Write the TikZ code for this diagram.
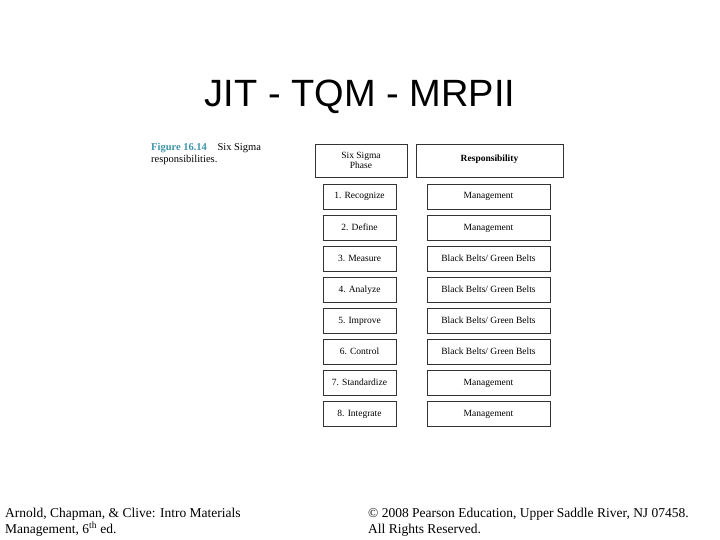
\documentclass[tikz,border=0pt]{standalone}
\usepackage{fontspec}
\setmainfont{Liberation Serif}
\newfontfamily\ttl{Liberation Sans}
\definecolor{teal1}{RGB}{60,150,170}
\begin{document}
\begin{tikzpicture}[x=1pt,y=-1pt,
  cell/.style={draw=black!80,line width=0.6pt,minimum height=25pt,inner sep=0pt,text height=7pt,text depth=2pt,font=\fontsize{9.5}{10}\selectfont},
  lcell/.style={cell,minimum width=73pt},
  rcell/.style={cell,minimum width=123pt},
  foot/.style={anchor=north west,align=left,inner sep=0pt,font=\fontsize{13.5}{16}\selectfont}]
\useasboundingbox (0,0) rectangle (720,540);
\node (title) at (360,97) {\ttl\fontsize{38}{40}\selectfont JIT - TQM - MRPII};
\node[anchor=north west,align=left,inner sep=0pt,font=\fontsize{10.5}{12}\selectfont] (cap) at (151,143)
  {{\color{teal1}\bfseries Figure 16.14}\quad Six Sigma\\responsibilities.};
\node[draw=black!80,line width=0.7pt,minimum width=92pt,minimum height=33pt,align=center,inner sep=0pt,font=\fontsize{9.5}{10}\selectfont] (h1) at (361,160.5) {Six Sigma\\Phase};
\node[draw=black!80,line width=0.7pt,minimum width=147pt,minimum height=33pt,inner sep=0pt,font=\bfseries\fontsize{9.5}{10}\selectfont] (h2) at (489.5,160.5) {\raisebox{4pt}{Responsibility}};
\foreach \i/\p/\r in {0/1. Recognize/Management,1/2. Define/Management,2/3. Measure/{Black Belts/ Green Belts},3/4. Analyze/{Black Belts/ Green Belts},4/5. Improve/{Black Belts/ Green Belts},5/6. Control/{Black Belts/ Green Belts},6/7. Standardize/Management,7/8. Integrate/Management}{
  \node[lcell] (p\i) at (359.5,{196.5+31*\i}) {\p};
  \node[rcell] (r\i) at (488.5,{196.5+31*\i}) {\r};
}
\node[foot] (f1) at (5,508) {Arnold, Chapman, \& Clive: Intro Materials\\Management, 6\textsuperscript{th} ed.};
\node[foot] (f2) at (368,508) {© 2008 Pearson Education, Upper Saddle River, NJ 07458.\\All Rights Reserved.};
\end{tikzpicture}
\end{document}
